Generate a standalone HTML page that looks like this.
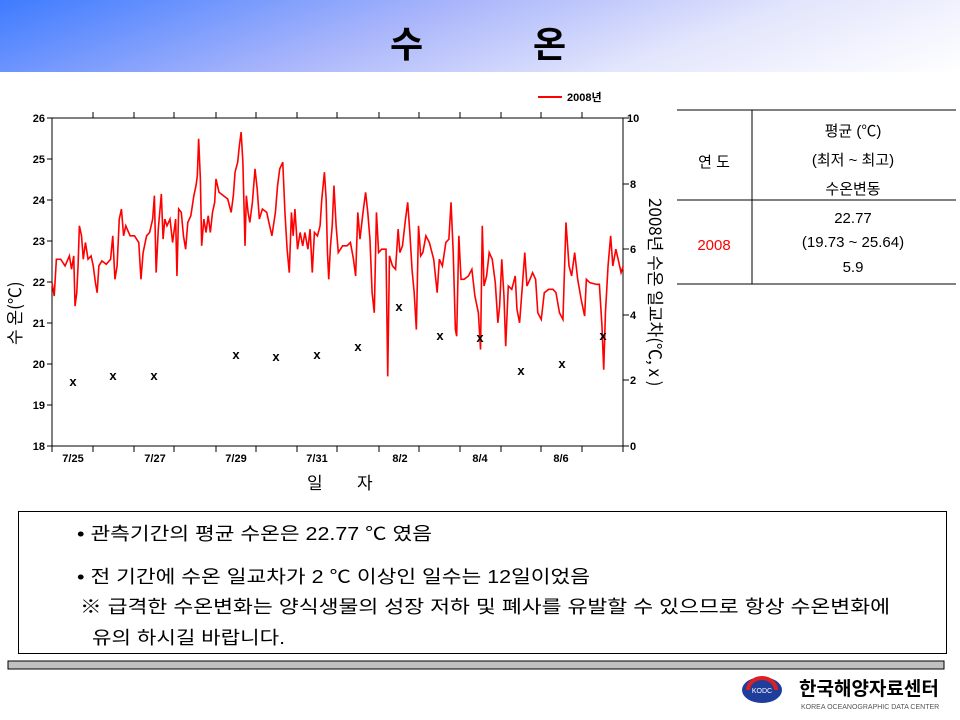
<!DOCTYPE html>
<html><head><meta charset="utf-8"><style>
body{margin:0;width:960px;height:720px;overflow:hidden;background:#fff;font-family:"Liberation Sans","Noto Sans CJK KR",sans-serif;position:relative}
.hdr{position:absolute;left:0;top:0;width:960px;height:72px;background:linear-gradient(160deg,#3e7bff 0%,#a9b5fb 40%,#e3e6fc 70%,#fff 100%)}
.abs{position:absolute}
</style></head><body>
<div class="hdr"></div>
<div class="abs" style="left:390px;top:16px;font-size:36px;font-weight:bold;font-family:'Noto Sans CJK KR',sans-serif">수</div>
<div class="abs" style="left:533px;top:16px;font-size:36px;font-weight:bold;font-family:'Noto Sans CJK KR',sans-serif">온</div>
<svg class="abs" style="left:0;top:0" width="960" height="720">
<g font-family="Liberation Sans,Noto Sans CJK KR,sans-serif" font-weight="bold" font-size="11">
<line x1="538" y1="97" x2="562" y2="97" stroke="red" stroke-width="2"/>
<text x="567" y="101">2008년</text>
<rect x="52" y="118" width="571" height="328" fill="none" stroke="#000" stroke-width="1"/>
<g stroke="#000">
<line x1="47" y1="118" x2="52" y2="118"/><line x1="47" y1="159" x2="52" y2="159"/><line x1="47" y1="200" x2="52" y2="200"/><line x1="47" y1="241" x2="52" y2="241"/><line x1="47" y1="282" x2="52" y2="282"/><line x1="47" y1="323" x2="52" y2="323"/><line x1="47" y1="364" x2="52" y2="364"/><line x1="47" y1="405" x2="52" y2="405"/><line x1="47" y1="446" x2="52" y2="446"/>
<line x1="623" y1="118" x2="629" y2="118"/><line x1="623" y1="184" x2="629" y2="184"/><line x1="623" y1="249" x2="629" y2="249"/><line x1="623" y1="315" x2="629" y2="315"/><line x1="623" y1="380" x2="629" y2="380"/><line x1="623" y1="446" x2="629" y2="446"/>
</g>
<g stroke="#000">
<path d="M52 446v6M93 446v6M134 446v6M174 446v6M216 446v6M256 446v6M297 446v6M337 446v6M379 446v6M419 446v6M460 446v6M501 446v6M541 446v6M582 446v6M623 446v6"/>
<path d="M93 118v-6M134 118v-6M174 118v-6M216 118v-6M256 118v-6M297 118v-6M337 118v-6M379 118v-6M419 118v-6M460 118v-6M501 118v-6M541 118v-6M582 118v-6"/>
</g>
<g text-anchor="end"><text x="45" y="122">26</text><text x="45" y="163">25</text><text x="45" y="204">24</text><text x="45" y="245">23</text><text x="45" y="286">22</text><text x="45" y="327">21</text><text x="45" y="368">20</text><text x="45" y="409">19</text><text x="45" y="450">18</text></g>
<g><text x="627" y="122">10</text><text x="630" y="188">8</text><text x="630" y="253">6</text><text x="630" y="319">4</text><text x="630" y="384">2</text><text x="630" y="450">0</text></g>
<g text-anchor="middle"><text x="73" y="462">7/25</text><text x="155" y="462">7/27</text><text x="236" y="462">7/29</text><text x="317" y="462">7/31</text><text x="400" y="462">8/2</text><text x="480" y="462">8/4</text><text x="561" y="462">8/6</text></g>
</g>
<g font-family="Noto Sans CJK KR,sans-serif" font-size="17">
<text x="307" y="489">일</text><text x="357" y="489">자</text>
<text transform="translate(21,345) rotate(-90)">수 온(℃)</text>
<text transform="translate(649,198) rotate(90)">2008년 수온 일교차(℃, x )</text>
</g>
<g transform="matrix(0.4337 0 0 0.3347 0 78.5)">
<polyline fill="none" stroke="red" stroke-width="1.6" vector-effect="non-scaling-stroke" points="120,610 125,650 130,540 140,540 150,560 160,530 165,570 170,530 173,680 177,640 180,560 183,440 188,470 192,540 197,490 203,540 210,530 215,560 220,610 224,640 228,560 235,545 245,555 255,540 260,470 265,600 270,560 275,420 280,390 285,470 290,440 300,470 310,470 320,490 325,600 330,520 338,470 345,460 352,420 356,350 360,580 365,450 372,345 376,480 380,420 385,440 392,420 398,490 405,420 408,590 412,390 418,400 423,470 428,510 433,430 440,410 447,350 452,320 455,290 458,180 462,300 465,500 470,420 475,460 480,410 485,460 490,400 495,370 498,300 505,340 515,350 525,360 533,400 538,350 542,280 548,250 552,200 556,160 560,250 565,500 568,350 572,400 576,430 582,370 588,270 593,330 598,420 605,390 615,400 620,430 627,470 635,400 640,320 645,270 652,250 657,400 662,510 667,580 672,400 676,470 680,390 686,510 692,460 698,500 703,460 710,510 715,450 720,580 725,460 732,470 738,440 742,360 748,280 752,360 755,520 758,600 762,500 766,440 770,320 775,440 780,520 790,500 800,500 808,490 815,540 820,590 825,400 830,480 837,400 843,340 848,400 853,480 858,640 863,700 868,400 873,520 880,510 890,510 894,890 898,530 905,560 912,570 918,450 922,520 928,500 935,420 940,370 945,460 950,570 955,640 960,750 965,440 970,530 975,520 982,470 990,490 1000,540 1008,640 1013,540 1020,560 1028,490 1035,480 1040,370 1045,520 1050,750 1053,770 1058,470 1063,600 1070,600 1080,590 1088,570 1095,650 1103,700 1108,810 1112,440 1116,620 1122,590 1128,520 1135,540 1142,610 1148,730 1152,680 1157,540 1162,650 1166,800 1172,620 1180,630 1188,590 1192,690 1198,730 1205,610 1210,520 1215,620 1222,600 1228,580 1235,600 1240,700 1248,720 1255,640 1265,630 1275,630 1282,640 1290,700 1298,720 1305,430 1312,560 1318,590 1325,520 1332,600 1340,660 1348,710 1352,600 1360,610 1375,615 1382,615 1388,740 1392,870 1396,700 1402,560 1408,470 1413,560 1420,510 1427,550 1432,580 1437,560"/>
</g>
<g font-family="Liberation Sans,sans-serif" font-size="13" font-weight="bold" text-anchor="middle">
<text x="73" y="386">x</text><text x="113" y="380">x</text><text x="154" y="380">x</text><text x="236" y="359">x</text><text x="276" y="361">x</text><text x="317" y="359">x</text><text x="358" y="351">x</text><text x="399" y="311">x</text><text x="440" y="340">x</text><text x="480" y="342">x</text><text x="521" y="375">x</text><text x="562" y="368">x</text><text x="603" y="340">x</text>
</g>
<g stroke="#000" fill="none">
<line x1="677" y1="110" x2="956" y2="110"/><line x1="677" y1="200" x2="956" y2="200"/><line x1="677" y1="284" x2="956" y2="284"/><line x1="752" y1="110" x2="752" y2="284"/>
<rect x="18.5" y="511.5" width="928" height="142"/>
</g>
<rect x="8" y="661" width="936" height="8" fill="#c0c0c0" stroke="#000"/>
<g font-family="Liberation Sans,Noto Sans CJK KR,sans-serif" font-size="15" text-anchor="middle">
<text x="714" y="167">연 도</text>
<text x="853" y="136">평균 (℃)</text><text x="853" y="165">(최저 ~ 최고)</text><text x="853" y="194">수온변동</text>
<text x="714" y="250" fill="red">2008</text>
<text x="853" y="223">22.77</text><text x="853" y="247">(19.73 ~ 25.64)</text><text x="853" y="272">5.9</text>
</g>
<g font-family="Liberation Sans,Noto Sans CJK KR,sans-serif" font-size="18">
<text x="77" y="540" textLength="355" lengthAdjust="spacingAndGlyphs">• 관측기간의 평균 수온은 22.77 ℃ 였음</text>
<text x="77" y="583" textLength="513" lengthAdjust="spacingAndGlyphs">• 전 기간에 수온 일교차가 2 ℃ 이상인 일수는 12일이었음</text>
<text x="80" y="613" textLength="810" lengthAdjust="spacingAndGlyphs">※ 급격한 수온변화는 양식생물의 성장 저하 및 폐사를 유발할 수 있으므로 항상 수온변화에</text>
<text x="92" y="644" textLength="193" lengthAdjust="spacingAndGlyphs">유의 하시길 바랍니다.</text>
</g>
<ellipse cx="762" cy="690" rx="20" ry="13" fill="#1f3d9a"/>
<path d="M748 690a14 12 0 0 1 28 0" fill="none" stroke="#e02020" stroke-width="4"/>
<text x="762" y="693" font-size="7" fill="#fff" text-anchor="middle" font-family="Liberation Sans">KODC</text>
<text x="799" y="695" font-family="Noto Sans CJK KR,sans-serif" font-weight="bold" font-size="19">한국해양자료센터</text>
<text x="801" y="709" font-family="Liberation Sans" font-size="7" fill="#555">KOREA OCEANOGRAPHIC DATA CENTER</text>
</svg>
</body></html>
